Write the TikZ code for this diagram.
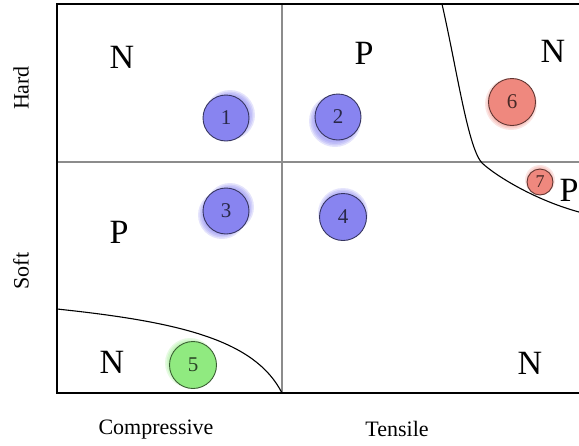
\documentclass[tikz,border=0pt]{standalone}
\usepackage{fontspec}
\setmainfont{Liberation Serif}
\definecolor{blueball}{RGB}{136,132,240}
\definecolor{redball}{RGB}{239,136,126}
\definecolor{greenball}{RGB}{144,234,128}
\definecolor{divgray}{RGB}{140,140,140}
\begin{document}
\begin{tikzpicture}[x=1pt,y=-1pt,
  frame/.style={line width=2.6pt,black,line cap=rect},
  divider/.style={line width=1.1pt,divgray},
  bound/.style={line width=1.1pt,black},
  region/.style={font=\fontsize{34}{34}\selectfont,inner sep=0pt},
  axis/.style={font=\fontsize{22}{22}\selectfont,inner sep=0pt},
  ball/.style={circle,draw=#1!40!black,fill=#1,line width=0.9pt,inner sep=0pt,
    font=\fontsize{21}{21}\selectfont,text=#1!30!black},
  glowring/.style={fill=#1,opacity=0.22,draw=none},
]
\newcommand{\softglow}[4]{%
  \fill[glowring=#1] (#2,#3) circle (#4+4);
  \fill[glowring=#1] (#2,#3) circle (#4+2.5);
  \fill[glowring=#1] (#2,#3) circle (#4+1);
  \fill[glowring=#1] (#2,#3) circle (#4-0.5);}
\useasboundingbox (0,0) rectangle (579,445);
% dividers
\draw[divider] (282,4) -- (282,393);
\draw[divider] (57,162) -- (579,162);
% boundary curves
\draw[bound] (442,4) .. controls (457,70) and (468,148) .. (482,163)
  .. controls (496,176) and (535,200) .. (579,212);
\draw[bound] (57,309) .. controls (180,322) and (255,340) .. (282,393);
% frame
\draw[frame] (579,4) -- (57,4) -- (57,393) -- (579,393);
% glows
\softglow{blueball}{230}{115}{21}
\softglow{blueball}{335}{121}{22}
\softglow{blueball}{222}{215}{20}
\softglow{blueball}{230}{207}{20}
\softglow{blueball}{343}{213}{21}
\softglow{greenball}{190}{363}{21}
\softglow{redball}{511}{104}{22}
\softglow{redball}{540}{180}{11}
% balls
\node[ball=blueball,minimum size=46pt] (c1) at (226,118) {1};
\node[ball=blueball,minimum size=46pt] (c2) at (338,117) {2};
\node[ball=blueball,minimum size=46pt] (c3) at (226,211) {3};
\node[ball=blueball,minimum size=47pt] (c4) at (343,217) {4};
\node[ball=greenball,minimum size=47pt] (c5) at (193,365) {5};
\node[ball=redball,minimum size=47pt] (c6) at (512,102) {6};
\node[ball=redball,minimum size=26pt,font=\fontsize{18}{18}\selectfont] (c7) at (540,182) {7};
% region labels
\node[region] (n1) at (122,57) {N};
\node[region] (p1) at (364,53) {P};
\node[region] (n2) at (553,51) {N};
\node[region] (p2) at (119,232) {P};
\node[region] (p3) at (569,190) {P};
\node[region] (n3) at (112,362) {N};
\node[region] (n4) at (530,363) {N};
% axis labels
\node[axis,rotate=90] (hard) at (21,88) {Hard};
\node[axis,rotate=90] (soft) at (21,271) {Soft};
\node[axis] (comp) at (156,430) {Compressive};
\node[axis] (tens) at (397,429) {Tensile};
\end{tikzpicture}
\end{document}
